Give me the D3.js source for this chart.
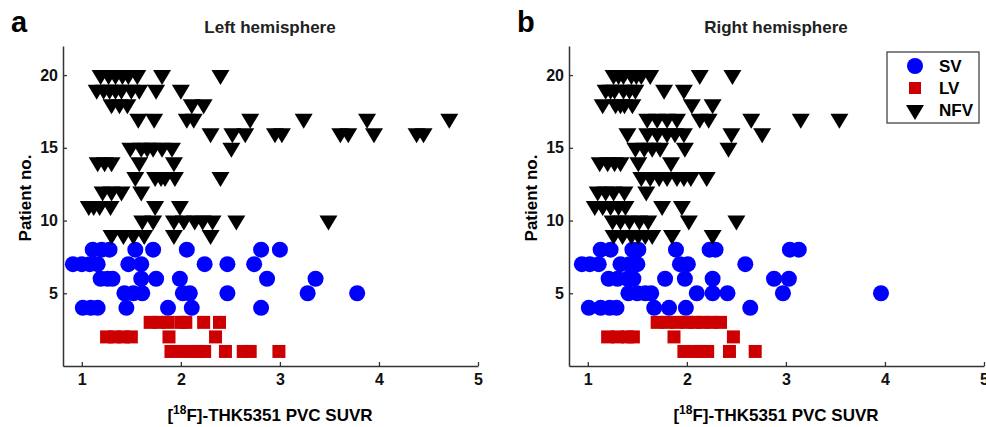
<!DOCTYPE html>
<html>
<head>
<meta charset="utf-8">
<script src="https://cdn.jsdelivr.net/npm/d3@7"></script>
<style>
  body { margin: 0; background: #fff; }
  svg { display: block; font-family: "Liberation Sans", Arial, sans-serif; }
</style>
</head>
<body>
<div id="chart"></div>
<script>
// tick labels
var suvrTicks = [1, 2, 3, 4, 5];
var patientTicks = [5, 10, 15, 20];
var groupNames = ["SV", "LV", "NFV"];

// [patient no., SUVR values]
var leftSV = [
    [8, [1.11, 1.20, 1.28, 1.54, 1.72, 2.06, 2.81, 3.00]],
    [7, [0.91, 1.00, 1.08, 1.16, 1.47, 1.60, 2.24, 2.47, 2.74]],
    [6, [1.19, 1.26, 1.31, 1.60, 1.75, 1.99, 2.87, 3.36]],
    [5, [1.43, 1.52, 1.61, 2.02, 2.09, 2.47, 3.28, 3.78]],
    [4, [1.01, 1.09, 1.16, 1.45, 1.87, 2.11, 2.81]]
];
var leftLV = [
    [3, [1.69, 1.78, 1.87, 2.00, 2.05, 2.23, 2.39]],
    [2, [1.25, 1.33, 1.42, 1.50, 1.88, 2.35]],
    [1, [1.90, 2.00, 2.10, 2.17, 2.24, 2.45, 2.63, 2.70, 2.99]]
];
var leftNFV = [
    [20, [1.19, 1.27, 1.34, 1.41, 1.47, 1.56, 1.81, 2.40]],
    [19, [1.15, 1.22, 1.28, 1.34, 1.40, 1.50, 1.58, 1.75, 2.00]],
    [18, [1.30, 1.38, 1.46, 2.11, 2.23]],
    [17, [1.57, 1.73, 2.06, 2.13, 2.70, 3.24, 3.88, 4.71]],
    [16, [2.30, 2.52, 2.65, 2.95, 3.02, 3.61, 3.69, 3.95, 4.38, 4.45]],
    [15, [1.49, 1.60, 1.66, 1.72, 1.81, 1.91, 2.51]],
    [14, [1.16, 1.23, 1.30, 1.58, 1.93]],
    [13, [1.54, 1.74, 1.80, 1.84, 1.94, 2.40]],
    [12, [1.21, 1.30, 1.40, 1.60]],
    [11, [1.07, 1.12, 1.18, 1.29, 1.74, 1.99]],
    [10, [1.61, 1.72, 1.93, 2.03, 2.14, 2.22, 2.32, 2.56, 3.49]],
    [9, [1.30, 1.42, 1.52, 1.63, 1.93, 2.30]]
];

var rightSV = [
    [8, [1.13, 1.23, 1.45, 1.51, 1.89, 2.23, 2.29, 3.04, 3.13]],
    [7, [0.94, 1.02, 1.11, 1.33, 1.42, 1.50, 1.93, 2.01, 2.59]],
    [6, [1.21, 1.30, 1.40, 1.46, 1.78, 1.98, 2.26, 2.88, 3.03]],
    [5, [1.41, 1.50, 1.58, 1.64, 2.10, 2.26, 2.41, 2.97, 3.96]],
    [4, [1.01, 1.13, 1.22, 1.29, 1.67, 1.82, 1.99, 2.64]]
];
var rightLV = [
    [3, [1.70, 1.80, 1.90, 2.00, 2.08, 2.16, 2.25, 2.34]],
    [2, [1.20, 1.30, 1.40, 1.46, 1.87, 2.47]],
    [1, [1.97, 2.07, 2.15, 2.21, 2.43, 2.69]]
];
var rightNFV = [
    [20, [1.26, 1.31, 1.36, 1.44, 1.49, 1.54, 1.63, 2.13, 2.46]],
    [19, [1.18, 1.23, 1.27, 1.36, 1.42, 1.48, 1.77, 1.97]],
    [18, [1.15, 1.28, 1.33, 1.37, 1.45, 2.05, 2.26]],
    [17, [1.60, 1.70, 1.80, 1.90, 2.13, 2.22, 2.65, 3.15, 3.54]],
    [16, [1.40, 1.60, 1.70, 1.80, 1.88, 1.97, 2.45, 2.76]],
    [15, [1.48, 1.57, 1.65, 1.73, 1.98, 2.42]],
    [14, [1.12, 1.20, 1.27, 1.33, 1.51, 1.84]],
    [13, [1.54, 1.63, 1.72, 1.80, 1.90, 1.97, 2.04, 2.20]],
    [12, [1.10, 1.18, 1.26, 1.37, 1.59]],
    [11, [1.07, 1.15, 1.23, 1.31, 1.38, 1.75, 1.95]],
    [10, [1.25, 1.33, 1.42, 1.52, 1.61, 2.02, 2.50]],
    [9, [1.26, 1.35, 1.44, 1.51, 1.58, 1.65, 1.85, 2.26]]
];

var width = 986, height = 427;
var panelShift = 506;
var plot = {left: 63, right: 478, top: 46, bottom: 366};
var axisColor = "#333";
var font = "'Liberation Sans', Arial, sans-serif";
var colors = {SV: "#0000ff", LV: "#cc0000", NFV: "#000"};
var circleR = 8, squareSide = 13;
// downward triangle, centroid on the data point
var triW = 18, triH = 15;
var triPath = `M${-triW / 2},${-triH / 3}L${triW / 2},${-triH / 3}L0,${triH * 2 / 3}Z`;

function flatten(rows) {
    var out = [];
    rows.forEach(function(row) {
        row[1].forEach(function(v) {
            out.push({patient: row[0], suvr: v});
        });
    });
    return out;
}

var svg = d3.select("#chart").append("svg")
    .attr("width", width)
    .attr("height", height);

var x = d3.scaleLinear().domain([0.81, 5]).range([plot.left, plot.right]);
var y = d3.scaleLinear().domain([0, 22]).range([plot.bottom, plot.top]);

function drawPanel(offset, letter, title, sv, lv, nfv) {
    var g = svg.append("g").attr("transform", `translate(${offset}, 0)`);

    g.append("text")
        .attr("x", 11).attr("y", 32)
        .style("font-size", "29px").style("font-weight", "bold")
        .text(letter);

    g.append("text")
        .attr("x", 270).attr("y", 33)
        .attr("text-anchor", "middle")
        .style("font-size", "17px").style("font-weight", "bold")
        .style("fill", "#222")
        .text(title);

    var marks = g.append("g");

    marks.selectAll("circle")
        .data(flatten(sv))
        .enter().append("circle")
        .attr("cx", d => x(d.suvr))
        .attr("cy", d => y(d.patient))
        .attr("r", circleR)
        .style("fill", colors.SV);

    marks.selectAll("rect")
        .data(flatten(lv))
        .enter().append("rect")
        .attr("x", d => x(d.suvr) - squareSide / 2)
        .attr("y", d => y(d.patient) - squareSide / 2)
        .attr("width", squareSide)
        .attr("height", squareSide)
        .style("fill", colors.LV);

    marks.selectAll("path")
        .data(flatten(nfv))
        .enter().append("path")
        .attr("d", triPath)
        .attr("transform", d => `translate(${x(d.suvr)}, ${y(d.patient)})`)
        .style("fill", colors.NFV);

    var xAxis = g.append("g")
        .attr("transform", `translate(0, ${plot.bottom})`)
        .call(d3.axisBottom(x).tickValues(suvrTicks).tickFormat(d3.format("d"))
            .tickSizeInner(-4).tickSizeOuter(0).tickPadding(8));
    var yAxis = g.append("g")
        .attr("transform", `translate(${plot.left}, 0)`)
        .call(d3.axisLeft(y).tickValues(patientTicks)
            .tickSizeInner(-4).tickSizeOuter(0).tickPadding(5));

    [xAxis, yAxis].forEach(function(ax) {
        ax.select(".domain").style("stroke", axisColor).style("stroke-width", 1.5);
        ax.selectAll(".tick line").style("stroke", axisColor).style("stroke-width", 1.3);
        ax.selectAll(".tick text")
            .style("font-family", font)
            .style("font-size", "16px")
            .style("font-weight", "bold")
            .style("fill", "#111");
    });

    g.append("text")
        .attr("transform", "translate(31, 198) rotate(-90)")
        .attr("text-anchor", "middle")
        .style("font-size", "17px").style("font-weight", "bold")
        .text("Patient no.");

    var xLabel = g.append("text")
        .attr("x", 270).attr("y", 421)
        .attr("text-anchor", "middle")
        .style("font-size", "17px").style("font-weight", "bold");
    xLabel.append("tspan").text("[");
    xLabel.append("tspan").attr("dy", -7).style("font-size", "12px").text("18");
    xLabel.append("tspan").attr("dy", 7).text("F]-THK5351 PVC SUVR");

    return g;
}

drawPanel(0, "a", "Left hemisphere", leftSV, leftLV, leftNFV);
drawPanel(panelShift, "b", "Right hemisphere", rightSV, rightLV, rightNFV);

// legend (right panel)
var legend = svg.append("g");
legend.append("rect")
    .attr("x", 887).attr("y", 52)
    .attr("width", 92).attr("height", 71)
    .style("fill", "#fff")
    .style("stroke", "#444")
    .style("stroke-width", 1.3);

var legendY = [66, 88, 110];
groupNames.forEach(function(name, i) {
    var cy = legendY[i];
    if (name === "SV") {
        legend.append("circle").attr("cx", 915).attr("cy", cy).attr("r", circleR)
            .style("fill", colors.SV);
    } else if (name === "LV") {
        legend.append("rect")
            .attr("x", 915 - 6).attr("y", cy - 6)
            .attr("width", 12).attr("height", 12)
            .style("fill", colors.LV);
    } else {
        legend.append("path").attr("d", triPath)
            .attr("transform", `translate(915, ${cy})`)
            .style("fill", colors.NFV);
    }
    legend.append("text")
        .attr("x", 939).attr("y", cy + 6)
        .style("font-size", "17px").style("font-weight", "bold")
        .text(name);
});
</script>
</body>
</html>
